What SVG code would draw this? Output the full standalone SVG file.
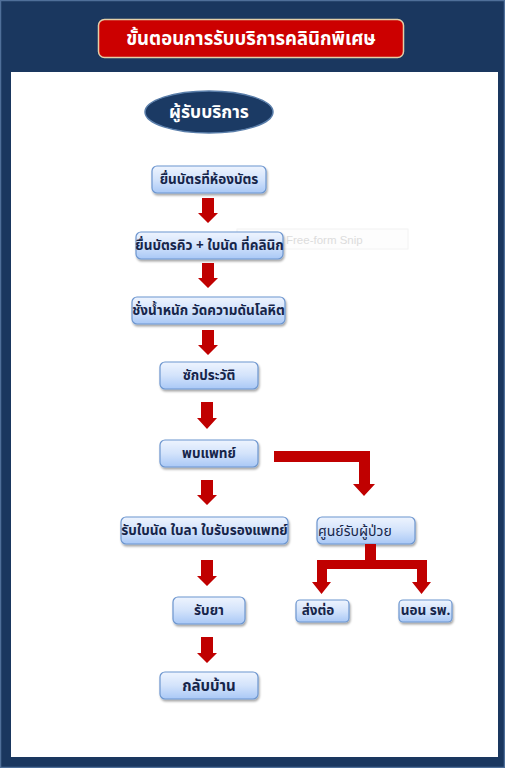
<svg xmlns="http://www.w3.org/2000/svg" width="505" height="768" viewBox="0 0 505 768">
<defs>
<linearGradient id="bg" x1="0" y1="0" x2="0" y2="1">
<stop offset="0" stop-color="#eef4fe"/>
<stop offset="0.5" stop-color="#d3e3fb"/>
<stop offset="1" stop-color="#a9c8f6"/>
</linearGradient>
<filter id="sh" x="-10%" y="-20%" width="120%" height="150%">
<feDropShadow dx="1" dy="2" stdDeviation="1.2" flood-color="#000" flood-opacity="0.35"/>
</filter>
</defs>
<style>
.box{fill:url(#bg);stroke:#6d96cf;stroke-width:1.2;filter:url(#sh)}
.t{font-family:"Noto Sans Thai","Tahoma","Loma","Garuda","DejaVu Sans",sans-serif;font-weight:bold;font-size:13.5px;fill:#16254a;text-anchor:middle;dominant-baseline:central}
.ar{fill:#c00000}
</style>
<rect x="0" y="0" width="505" height="768" fill="#1a375f"/>
<rect x="0.5" y="0.5" width="504" height="767" fill="none" stroke="#4f6f99" stroke-width="1.5"/>
<rect x="11" y="72" width="487" height="685" fill="#ffffff"/>
<g id="title">
<rect x="98.5" y="19.5" width="305" height="38" rx="6" fill="#cc0000" stroke="#e3cfa8" stroke-width="1.5"/>
<text x="251" y="39" class="t" style="fill:#fff;font-size:18.5px">ขั้นตอนการรับบริการคลินิกพิเศษ</text>
</g>
<g id="snip">
<rect x="237" y="229" width="171" height="20" fill="#fdfdfd" stroke="#f2f2f2" stroke-width="1"/>
<text x="286" y="239.5" style="font-family:'Liberation Sans',sans-serif;font-size:11.5px;fill:#dcdcdc;dominant-baseline:central">Free-form Snip</text>
</g>
<g id="n0">
<ellipse cx="209" cy="112" rx="64" ry="21" fill="#1b3a64" stroke="#5a7eaa" stroke-width="1.5"/>
<text x="209" y="112" class="t" style="fill:#fff;font-size:17.5px">ผู้รับบริการ</text>
</g>
<g id="n1"><rect class="box" x="152" y="166" width="114" height="27" rx="5"/><text class="t" x="209" y="180">ยื่นบัตรที่ห้องบัตร</text></g>
<g id="n2"><rect class="box" x="136" y="232" width="147" height="27" rx="5"/><text class="t" x="209.5" y="246">ยื่นบัตรคิว + ใบนัด ที่คลินิก</text></g>
<g id="n3"><rect class="box" x="132" y="297" width="153" height="27" rx="5"/><text class="t" x="208.5" y="311">ชั่งน้ำหนัก วัดความดันโลหิต</text></g>
<g id="n4"><rect class="box" x="160" y="362" width="98" height="27" rx="5"/><text class="t" x="209" y="376">ซักประวัติ</text></g>
<g id="n5"><rect class="box" x="160" y="440" width="98" height="27" rx="5"/><text class="t" x="209" y="454">พบแพทย์</text></g>
<g id="n6"><rect class="box" x="121" y="517" width="167" height="27" rx="5"/><text class="t" x="204.5" y="531">รับใบนัด ใบลา ใบรับรองแพทย์</text></g>
<g id="n7"><rect class="box" x="173" y="597" width="72" height="27" rx="5"/><text class="t" x="209" y="611">รับยา</text></g>
<g id="n8"><rect class="box" x="160" y="672" width="98" height="27" rx="5"/><text class="t" x="209" y="686" style="font-size:15px">กลับบ้าน</text></g>
<g id="n9"><rect class="box" x="317" y="517" width="98" height="27" rx="5"/><text class="t" x="318" y="531" style="text-anchor:start;font-weight:normal;font-size:14px">ศูนย์รับผู้ป่วย</text></g>
<g id="n10"><rect class="box" x="296" y="600" width="53" height="22" rx="4"/><text class="t" x="318" y="611">ส่งต่อ</text></g>
<g id="n11"><rect class="box" x="399" y="600" width="53" height="22" rx="4"/><text class="t" x="425.5" y="611">นอน รพ.</text></g>
<g id="connectors">
<polygon class="ar" points="202,198 214,198 214,213 218,213 208,223 198,213 202,213"/>
<polygon class="ar" points="202,263 214,263 214,278 218,278 208,288 198,278 202,278"/>
<polygon class="ar" points="202,330 214,330 214,345 218,345 208,355 198,345 202,345"/>
<polygon class="ar" points="201,402 213,402 213,418 217,418 207,429 197,418 201,418"/>
<polygon class="ar" points="201,480 213,480 213,495 217,495 207,505 197,495 201,495"/>
<polygon class="ar" points="201,560 213,560 213,576 217,576 207,586 197,576 201,576"/>
<polygon class="ar" points="201,637 213,637 213,653 217,653 207,663 197,653 201,653"/>
<polygon class="ar" points="274,451 370,451 370,484 375,484 364,496 353,484 359,484 359,462 274,462"/>
<polygon class="ar" points="365,544 376,544 376,560 427,560 427,582 431,582 421.5,594 412,582 417,582 417,569 327,569 327,582 331,582 321.5,594 312,582 317,582 317,560 365,560"/>
</g>
</svg>
